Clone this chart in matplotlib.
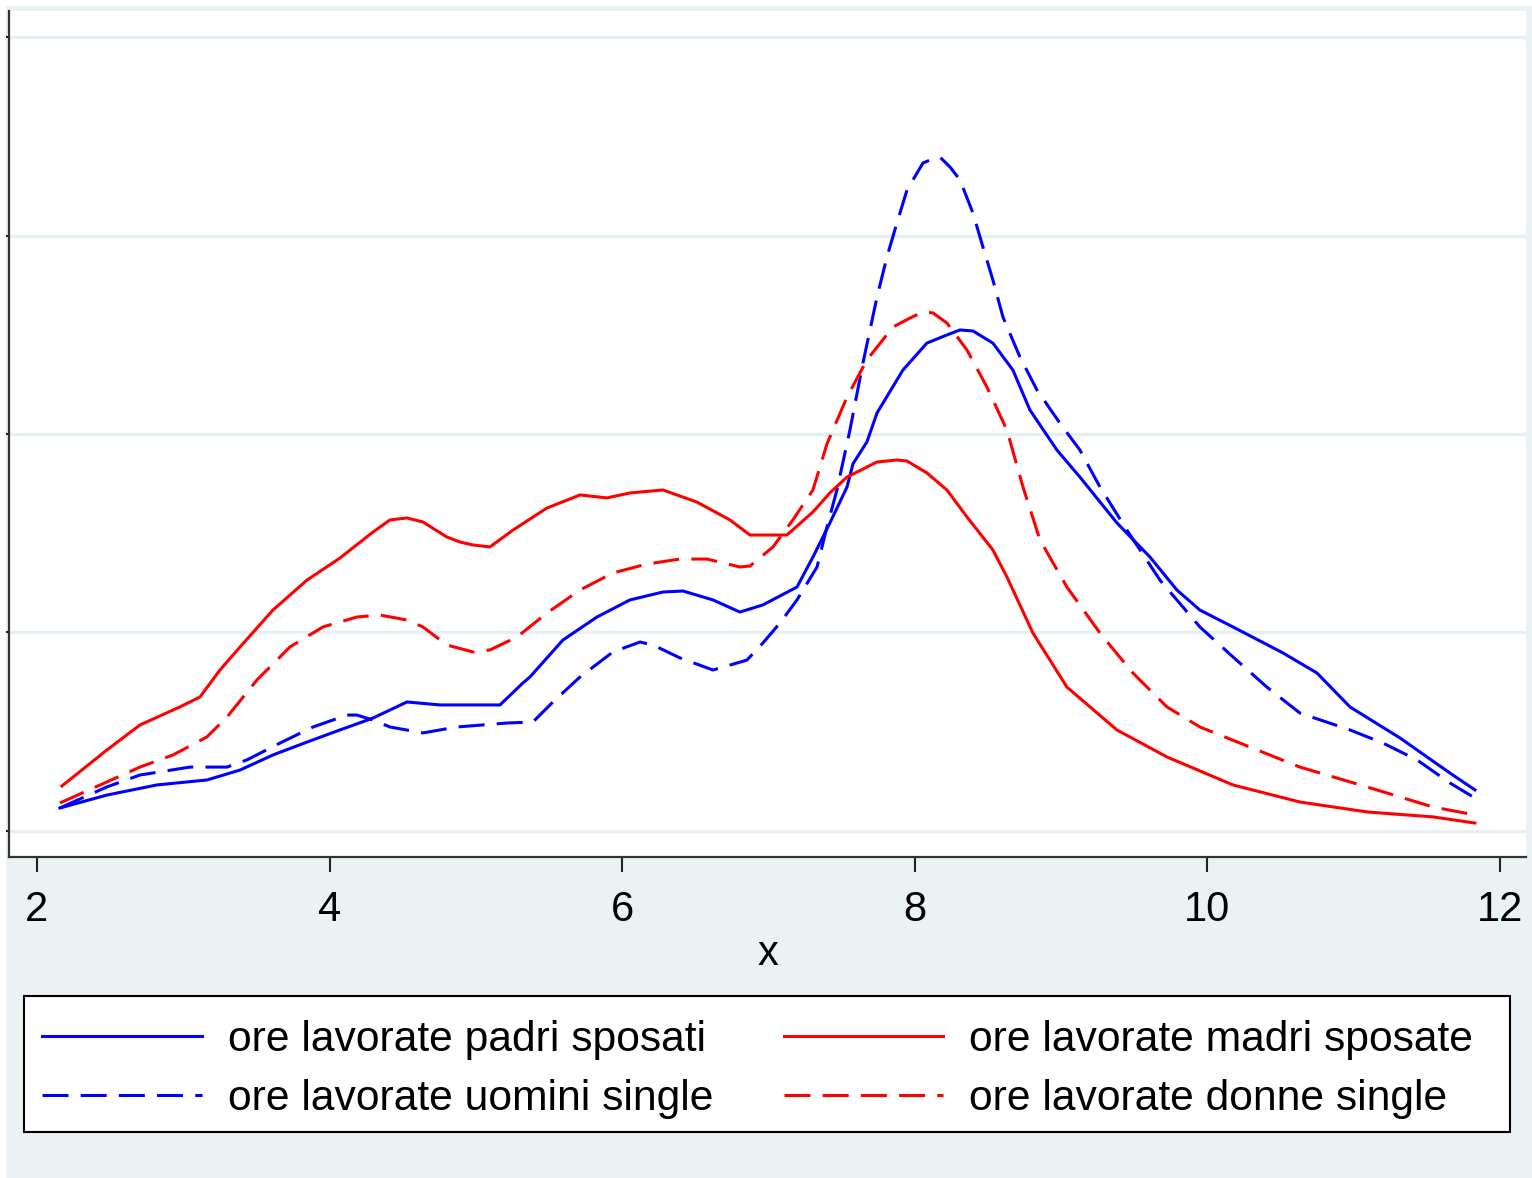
import matplotlib
matplotlib.use("Agg")
import matplotlib.pyplot as plt
from matplotlib.patches import Rectangle

plt.rcParams['font.family'] = ['Liberation Sans', 'DejaVu Sans']

# ---- data (kernel density estimates) ----
x_padri = [2.157, 2.478, 2.820, 3.162, 3.388, 3.613, 3.846, 4.071, 4.297, 4.529, 4.755,
           5.165, 5.322, 5.370, 5.595, 5.828, 6.053, 6.279, 6.416, 6.621, 6.805, 6.962,
           7.195, 7.304, 7.420, 7.537, 7.578, 7.673, 7.742, 7.919, 8.083, 8.220, 8.309,
           8.398, 8.534, 8.671, 8.787, 8.972, 9.129, 9.382, 9.608, 9.792, 9.949, 10.175,
           10.517, 10.749, 10.975, 11.316, 11.658, 11.829]
y_padri = [0.0116, 0.0181, 0.0232, 0.0257, 0.0307, 0.0383, 0.0448, 0.0509, 0.0569, 0.0650,
           0.0635, 0.0635, 0.0746, 0.0776, 0.0962, 0.1078, 0.1164, 0.1204, 0.1209, 0.1164,
           0.1103, 0.1139, 0.1229, 0.1380, 0.1552, 0.1733, 0.1850, 0.1960, 0.2106, 0.2322,
           0.2458, 0.2499, 0.2524, 0.2519, 0.2458, 0.2322, 0.2121, 0.1919, 0.1783, 0.1552,
           0.1380, 0.1214, 0.1113, 0.1028, 0.0897, 0.0796, 0.0625, 0.0469, 0.0292, 0.0207]

x_uomini = [2.157, 2.478, 2.704, 3.046, 3.299, 3.435, 3.661, 3.887, 4.119, 4.187, 4.297,
            4.413, 4.638, 4.871, 5.213, 5.390, 5.527, 5.712, 5.937, 6.122, 6.211, 6.395,
            6.621, 6.853, 6.962, 7.079, 7.195, 7.332, 7.400, 7.468, 7.557, 7.646, 7.742,
            7.810, 7.878, 7.947, 8.056, 8.104, 8.172, 8.241, 8.309, 8.398, 8.466, 8.534,
            8.603, 8.719, 8.835, 8.992, 9.129, 9.266, 9.450, 9.676, 9.949, 10.175, 10.407,
            10.633, 10.975, 11.200, 11.433, 11.658, 11.829]
y_uomini = [0.0116, 0.0222, 0.0282, 0.0322, 0.0322, 0.0358, 0.0443, 0.0524, 0.0584, 0.0584,
            0.0559, 0.0524, 0.0494, 0.0524, 0.0544, 0.0549, 0.0650, 0.0776, 0.0902, 0.0952,
            0.0937, 0.0872, 0.0811, 0.0861, 0.0947, 0.1048, 0.1164, 0.1330, 0.1532, 0.1718,
            0.2020, 0.2358, 0.2690, 0.2892, 0.3063, 0.3229, 0.3365, 0.3380, 0.3395, 0.3345,
            0.3280, 0.3113, 0.2942, 0.2776, 0.2589, 0.2388, 0.2222, 0.2055, 0.1919, 0.1733,
            0.1516, 0.1264, 0.1028, 0.0877, 0.0725, 0.0594, 0.0509, 0.0443, 0.0358, 0.0242,
            0.0166]

x_madri = [2.171, 2.478, 2.704, 2.977, 3.114, 3.251, 3.388, 3.613, 3.846, 4.071, 4.297,
           4.413, 4.529, 4.638, 4.802, 4.891, 4.980, 5.096, 5.254, 5.486, 5.712, 5.896,
           6.053, 6.279, 6.511, 6.737, 6.874, 7.126, 7.304, 7.420, 7.537, 7.742, 7.878,
           7.947, 8.083, 8.220, 8.357, 8.534, 8.630, 8.808, 9.040, 9.382, 9.724, 10.175,
           10.633, 11.091, 11.542, 11.829]
y_madri = [0.0227, 0.0408, 0.0534, 0.0625, 0.0675, 0.0811, 0.0927, 0.1113, 0.1264, 0.1375,
           0.1506, 0.1567, 0.1577, 0.1557, 0.1481, 0.1456, 0.1441, 0.1431, 0.1516, 0.1627,
           0.1693, 0.1678, 0.1703, 0.1718, 0.1657, 0.1567, 0.1491, 0.1491, 0.1607, 0.1703,
           0.1783, 0.1859, 0.1869, 0.1864, 0.1804, 0.1718, 0.1582, 0.1416, 0.1280, 0.0997,
           0.0725, 0.0509, 0.0373, 0.0232, 0.0146, 0.0096, 0.0071, 0.0040]

x_donne = [2.157, 2.478, 2.704, 2.930, 3.162, 3.299, 3.504, 3.729, 3.955, 4.187, 4.344,
           4.529, 4.638, 4.802, 4.980, 5.096, 5.281, 5.486, 5.712, 5.937, 6.170, 6.395,
           6.580, 6.805, 6.874, 7.031, 7.167, 7.304, 7.400, 7.537, 7.673, 7.851, 7.967,
           8.056, 8.124, 8.220, 8.357, 8.493, 8.630, 8.740, 8.856, 9.040, 9.266, 9.491,
           9.724, 9.949, 10.291, 10.633, 11.091, 11.542, 11.829]
y_donne = [0.0141, 0.0247, 0.0322, 0.0383, 0.0474, 0.0574, 0.0761, 0.0927, 0.1028, 0.1078,
           0.1088, 0.1063, 0.1028, 0.0937, 0.0902, 0.0912, 0.0977, 0.1098, 0.1214, 0.1300,
           0.1345, 0.1370, 0.1370, 0.1330, 0.1335, 0.1431, 0.1567, 0.1718, 0.1950, 0.2186,
           0.2373, 0.2539, 0.2584, 0.2615, 0.2610, 0.2559, 0.2423, 0.2237, 0.2020, 0.1733,
           0.1466, 0.1229, 0.0997, 0.0796, 0.0625, 0.0524, 0.0423, 0.0322, 0.0222, 0.0121,
           0.0081]

labels = ["ore lavorate padri sposati", "ore lavorate uomini single",
          "ore lavorate madri sposate", "ore lavorate donne single"]
x_ticks = [2, 4, 6, 8, 10, 12]
y_grid = [0.0, 0.1, 0.2, 0.3, 0.4]

# ---- figure ----
W, H = 1532, 1178
fig = plt.figure(figsize=(W / 100, H / 100), dpi=100, facecolor='white')
bg = '#EAF2F3'
fig.patches.append(Rectangle((6 / W, 0), 1 - 6 / W, 1 - 6 / H, transform=fig.transFigure,
                             facecolor=bg, edgecolor='none', zorder=-10))

ax = fig.add_axes([9 / W, 1 - 857 / H, (1526 - 9) / W, (857 - 11) / H])
ax.set_facecolor('white')

lw = 2.2
dash = (0, (8.5, 4))
ax.plot(x_padri, y_padri, color='#0000FF', lw=lw, label=labels[0])
ax.plot(x_uomini, y_uomini, color='#0000FF', lw=lw, linestyle=dash, label=labels[1])
ax.plot(x_madri, y_madri, color='#FF0000', lw=lw, label=labels[2])
ax.plot(x_donne, y_donne, color='#FF0000', lw=lw, linestyle=dash, label=labels[3])

ax.set_xlim(1.809, 12.178)
ax.set_ylim(-0.0131, 0.4131)

for g in y_grid:
    ax.axhline(g, color='#E6EFF1', lw=2.4, zorder=0)

ax.set_xticks(x_ticks)
ax.set_xticklabels([str(t) for t in x_ticks])
ax.set_yticks(y_grid)
ax.set_yticklabels([])
ax.tick_params(axis='x', length=11, width=1.5, direction='out', pad=12.5,
               labelsize=30, colors='#222222', labelcolor='black')
ax.tick_params(axis='y', length=2.5, width=1.5, direction='out', colors='#222222')
for s in ['top', 'right']:
    ax.spines[s].set_visible(False)
for s in ['left', 'bottom']:
    ax.spines[s].set_linewidth(1.6)
    ax.spines[s].set_color('#333333')

ax.set_xlabel('x', fontsize=30, labelpad=3)

# legend frame (drawn as a box in figure pixels) and entries
fig.patches.append(Rectangle((24 / W, 1 - 1132 / H), (1510 - 24) / W, (1132 - 996) / H,
                             transform=fig.transFigure, facecolor='white',
                             edgecolor='black', lw=1.5, zorder=-5))
leg = fig.legend(loc='upper left', bbox_to_anchor=(21 / W, 1 - 999 / H),
                 ncol=2, fontsize=30.7, frameon=False,
                 handlelength=3.75, handletextpad=0.61, columnspacing=1.64,
                 labelspacing=0.44, borderpad=0.5, borderaxespad=0)

fig.savefig('out.png', dpi=100, facecolor=fig.get_facecolor())
